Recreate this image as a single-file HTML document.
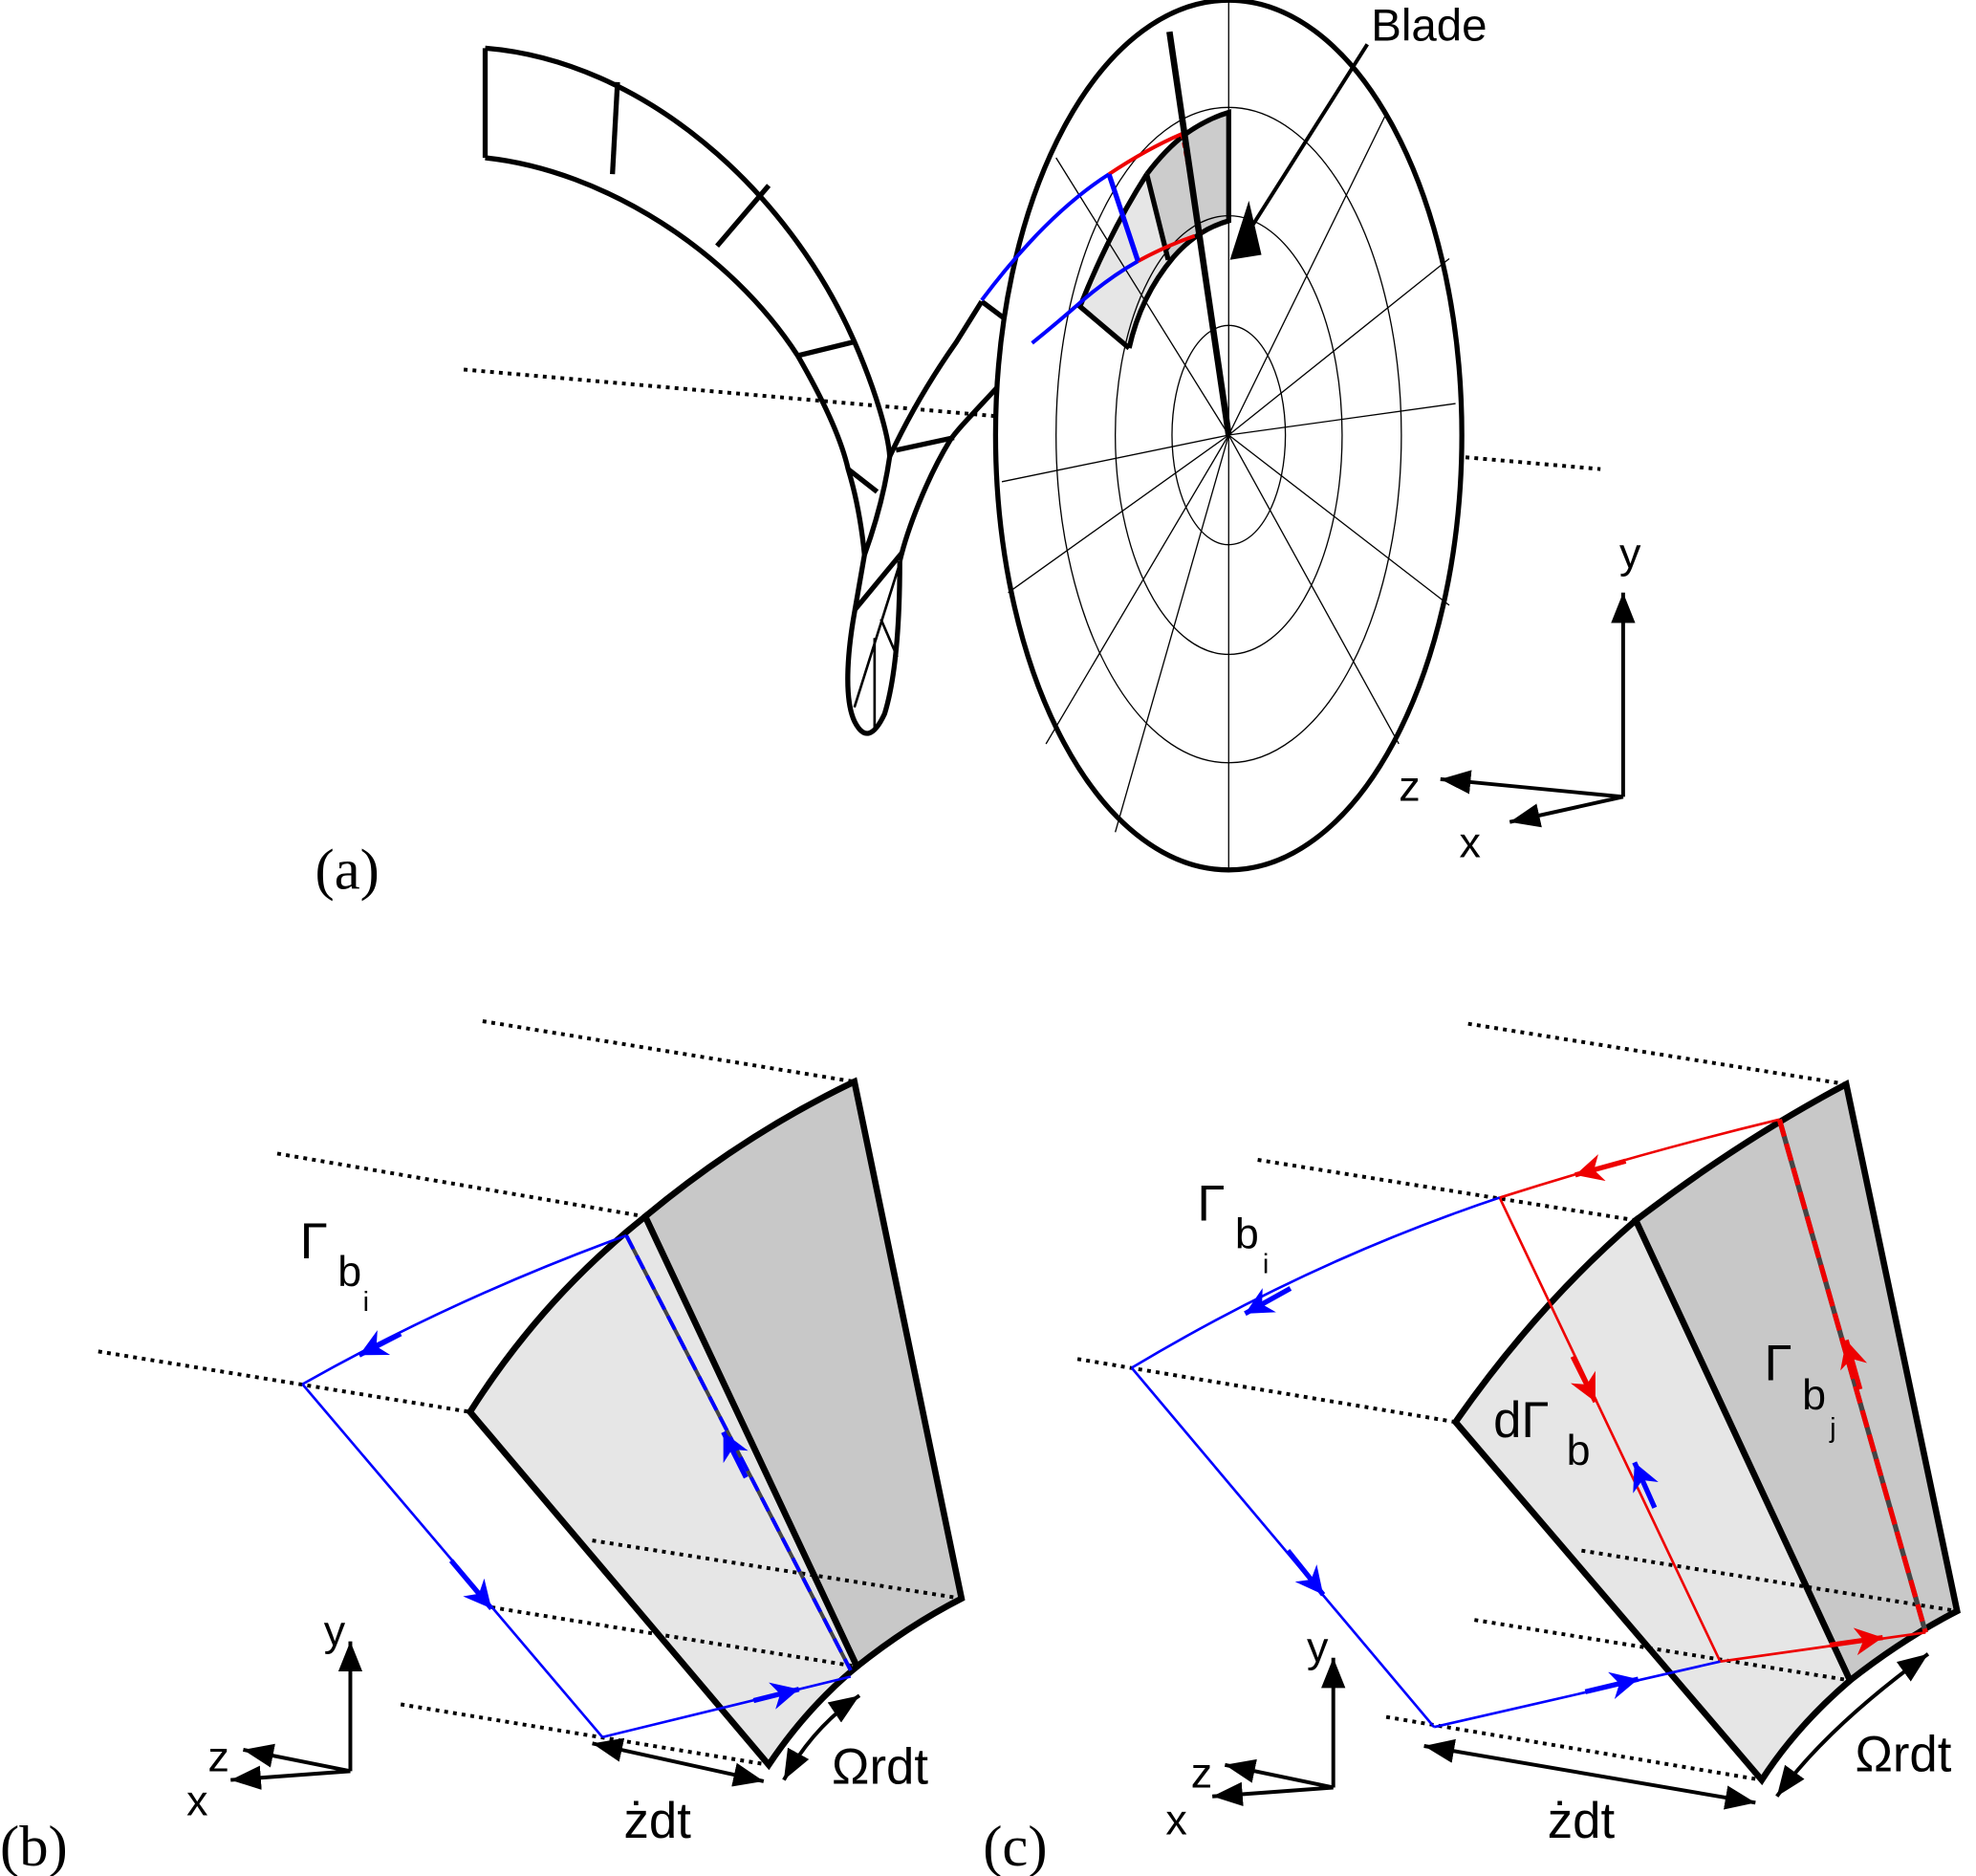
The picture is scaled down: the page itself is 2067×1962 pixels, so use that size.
<!DOCTYPE html>
<html><head><meta charset="utf-8"><style>
html,body{margin:0;padding:0;background:#fff;}
svg{display:block;}
text{font-family:"Liberation Sans",sans-serif;}
.serif{font-family:"Liberation Serif",serif;}
</style></head><body>
<svg width="2067" height="1962" viewBox="0 0 1568 1488" xmlns="http://www.w3.org/2000/svg">
<defs>
<marker id="ab" viewBox="0 0 10 10" refX="10" refY="5" markerWidth="8" markerHeight="8" orient="auto-start-reverse"><path d="M0,1 L10,5 L0,9 z" fill="#000"/></marker>
<marker id="mb" viewBox="0 0 10 10" refX="10" refY="5" markerUnits="userSpaceOnUse" markerWidth="32" markerHeight="22" orient="auto"><path d="M0,0 L10,5 L0,10 L3,5 z" fill="#00f"/></marker>
<marker id="mr" viewBox="0 0 10 10" refX="10" refY="5" markerUnits="userSpaceOnUse" markerWidth="32" markerHeight="22" orient="auto"><path d="M0,0 L10,5 L0,10 L3,5 z" fill="#e00"/></marker>
</defs>

<!-- (a) -->
<line x1="368" y1="293" x2="1270" y2="372" stroke="#000" stroke-width="3" stroke-dasharray="3,4"/>
<g fill="none" stroke="#000" stroke-width="4">
<path d="M385,38 C510,48 625,150 678,271 C695,310 705,345 706,362 C702,390 695,415 686,440"/>
<path d="M385,125 C480,135 580,200 633,282 C655,320 668,350 673,372 C680,395 684,420 686,440"/>
<line x1="385" y1="38" x2="385" y2="125"/>
<path d="M779,239 L759,271 Q728,315 706,362"/>
<path d="M819,272 L797,301 C775,325 760,340 754,349 C735,380 720,420 714,445"/>
<path d="M686,440 L678,486 C672,520 670,555 678,572 Q689,594 702,566 C710,540 714,500 714,445"/>
<line x1="490" y1="65" x2="486" y2="138"/>
<line x1="610" y1="147" x2="569" y2="195"/>
<line x1="678" y1="271" x2="633" y2="282"/>
<line x1="711" y1="357" x2="757" y2="347"/>
<line x1="673" y1="372" x2="696" y2="390"/>
<line x1="678" y1="484" x2="716" y2="438"/>
<line x1="779" y1="239" x2="803" y2="257"/>
<line x1="803" y1="257" x2="819" y2="272"/>
</g>
<g fill="none" stroke="#000" stroke-width="2">
<line x1="678" y1="561" x2="713" y2="450"/>
<line x1="694" y1="506" x2="694" y2="579"/>
<line x1="699" y1="491" x2="712" y2="521"/>
</g>
<ellipse cx="975" cy="345" rx="185" ry="345" fill="#fff" stroke="#000" stroke-width="4"/>
<path d="M910,138 Q925,118 941,106 Q958,94 975,89 L975,175 Q950,182 931,204 L927,206 Z" fill="#ccc"/>
<path d="M910,138 Q880,185 857,243 L896,276 Q905,235 927,206 Z" fill="#e6e6e6"/>
<g fill="none" stroke="#000" stroke-width="1">
<ellipse cx="975" cy="345" rx="45" ry="87"/>
<ellipse cx="975" cy="345" rx="90" ry="174"/>
<ellipse cx="975" cy="345" rx="137" ry="260"/>
<line x1="975" y1="345" x2="975" y2="690"/>
<line x1="975" y1="345" x2="975" y2="0"/>
<line x1="975" y1="345" x2="1155" y2="320"/>
<line x1="975" y1="345" x2="795" y2="382"/>
<line x1="975" y1="345" x2="1100" y2="90"/>
<line x1="975" y1="345" x2="885" y2="660"/>
<line x1="975" y1="345" x2="1110" y2="590"/>
<line x1="975" y1="345" x2="830" y2="590"/>
<line x1="975" y1="345" x2="1150" y2="205"/>
<line x1="975" y1="345" x2="800" y2="470"/>
<line x1="975" y1="345" x2="1150" y2="480"/>
<line x1="975" y1="345" x2="838" y2="125"/>
</g>
<g fill="none" stroke="#000" stroke-width="4">
<path d="M910,138 Q925,118 941,106 Q958,94 975,89 L975,175 Q950,182 931,204 Q905,235 896,276"/>
<path d="M910,138 Q880,185 857,243 L896,276"/>
<line x1="910" y1="138" x2="927" y2="206"/>
</g>
<g fill="none" stroke-width="3">
<path d="M779,238 Q830,170 880,138" stroke="#00f"/>
<path d="M880,138 Q910,118 938,106" stroke="#e00"/>
<path d="M819,272 Q840,255 857,240 Q880,220 903,207" stroke="#00f"/>
<path d="M903,207 Q925,195 948,187" stroke="#e00"/>
<line x1="880" y1="138" x2="903" y2="207" stroke="#00f" stroke-width="4"/>
<line x1="938" y1="106" x2="953" y2="187" stroke="#e00" stroke-dasharray="4,3"/>
</g>
<line x1="928" y1="25" x2="975" y2="345" stroke="#000" stroke-width="5"/>
<line x1="1085" y1="35" x2="993" y2="180" stroke="#000" stroke-width="3"/>
<path d="M991,159 L976,206 L1001,202 Z" fill="#000"/>
<text x="1088" y="32" font-size="36">Blade</text>
<g stroke="#000" stroke-width="3" fill="none">
<line x1="1288" y1="632" x2="1288" y2="470" marker-end="url(#ab)"/>
<line x1="1288" y1="632" x2="1143" y2="618" marker-end="url(#ab)"/>
<line x1="1288" y1="632" x2="1198" y2="652" marker-end="url(#ab)"/>
</g>
<text x="1285" y="450" font-size="34">y</text>
<text x="1110" y="635" font-size="34">z</text>
<text x="1158" y="680" font-size="34">x</text>
<text x="250" y="705" font-size="46" class="serif">(a)</text>

<!-- (b) -->
<g stroke="#000" stroke-width="3" stroke-dasharray="3,4">
<line x1="383" y1="810" x2="678" y2="858"/>
<line x1="220" y1="915" x2="512" y2="965"/>
<line x1="78" y1="1072" x2="373" y2="1120"/>
</g>
<path d="M512,965 Q590,900 678,858 L763,1268 Q720,1290 680,1322 Z" fill="#c8c8c8" stroke="#000" stroke-width="5"/>
<path d="M373,1120 Q430,1030 512,965 L680,1322 Q640,1355 610,1400 Z" fill="#e6e6e6" stroke="#000" stroke-width="5"/>
<g stroke="#000" stroke-width="3" stroke-dasharray="3,4">
<line x1="470" y1="1222" x2="763" y2="1268"/>
<line x1="390" y1="1275" x2="680" y2="1322"/>
<line x1="318" y1="1352" x2="610" y2="1400"/>
</g>
<g fill="none" stroke="#00f" stroke-width="2">
<path d="M497,980 Q360,1030 240,1098"/>
<line x1="240" y1="1098" x2="478" y2="1378"/>
<line x1="478" y1="1378" x2="675" y2="1330"/>
</g>
<line x1="497" y1="980" x2="675" y2="1325" stroke="#444" stroke-width="3"/>
<line x1="497" y1="980" x2="675" y2="1325" stroke="#00f" stroke-width="3" stroke-dasharray="12,6"/>
<g stroke="#00f" stroke-width="4">
<line x1="318" y1="1058" x2="285" y2="1075" marker-end="url(#mb)"/>
<line x1="358" y1="1238" x2="390" y2="1276" marker-end="url(#mb)"/>
<line x1="598" y1="1349" x2="634" y2="1340" marker-end="url(#mb)"/>
<line x1="592" y1="1172" x2="574" y2="1136" marker-end="url(#mb)"/>
</g>
<text x="238" y="998" font-size="40">Γ</text><text x="268" y="1020" font-size="34">b</text><text x="288" y="1040" font-size="22">i</text>
<g stroke="#000" stroke-width="3" fill="none">
<line x1="278" y1="1405" x2="278" y2="1302" marker-end="url(#ab)"/>
<line x1="278" y1="1405" x2="193" y2="1388" marker-end="url(#ab)"/>
<line x1="278" y1="1405" x2="183" y2="1412" marker-end="url(#ab)"/>
<line x1="470" y1="1383" x2="606" y2="1413" marker-start="url(#ab)" marker-end="url(#ab)"/>
<path d="M622,1412 Q645,1370 682,1345" marker-start="url(#ab)" marker-end="url(#ab)"/>
</g>
<text x="257" y="1305" font-size="34">y</text>
<text x="165" y="1405" font-size="34">z</text>
<text x="148" y="1440" font-size="34">x</text>
<text x="495" y="1458" font-size="40">żdt</text>
<text x="660" y="1415" font-size="40">Ωrdt</text>
<text x="0" y="1480" font-size="46" class="serif">(b)</text>

<!-- (c) -->
<g stroke="#000" stroke-width="3" stroke-dasharray="3,4">
<line x1="1165" y1="812" x2="1465" y2="860"/>
<line x1="998" y1="920" x2="1298" y2="968"/>
<line x1="855" y1="1078" x2="1155" y2="1128"/>
</g>
<path d="M1298,968 Q1380,905 1465,860 L1553,1278 Q1510,1300 1468,1333 Z" fill="#c8c8c8" stroke="#000" stroke-width="5"/>
<path d="M1155,1128 Q1220,1035 1298,968 L1468,1333 Q1425,1370 1398,1412 Z" fill="#e6e6e6" stroke="#000" stroke-width="5"/>
<g stroke="#000" stroke-width="3" stroke-dasharray="3,4">
<line x1="1255" y1="1230" x2="1553" y2="1278"/>
<line x1="1170" y1="1285" x2="1468" y2="1333"/>
<line x1="1100" y1="1362" x2="1398" y2="1412"/>
</g>
<g fill="none" stroke-width="2">
<path d="M1190,950 Q1300,915 1412,888" stroke="#e00"/>
<line x1="1190" y1="950" x2="1365" y2="1318" stroke="#e00"/>
<line x1="1365" y1="1318" x2="1528" y2="1295" stroke="#e00"/>
<path d="M1190,950 Q1040,1000 898,1085" stroke="#00f"/>
<line x1="898" y1="1085" x2="1138" y2="1370" stroke="#00f"/>
<line x1="1138" y1="1370" x2="1365" y2="1318" stroke="#00f"/>
</g>
<line x1="1412" y1="888" x2="1528" y2="1295" stroke="#444" stroke-width="4"/>
<line x1="1412" y1="888" x2="1528" y2="1295" stroke="#e00" stroke-width="4" stroke-dasharray="14,6"/>
<g stroke-width="4">
<line x1="1290" y1="921" x2="1250" y2="932" stroke="#e00" marker-end="url(#mr)"/>
<line x1="1248" y1="1076" x2="1266" y2="1112" stroke="#e00" marker-end="url(#mr)"/>
<line x1="1476" y1="1102" x2="1465" y2="1063" stroke="#e00" marker-end="url(#mr)"/>
<line x1="1452" y1="1305" x2="1494" y2="1299" stroke="#e00" marker-end="url(#mr)"/>
<line x1="1024" y1="1022" x2="988" y2="1042" stroke="#00f" marker-end="url(#mb)"/>
<line x1="1022" y1="1230" x2="1050" y2="1265" stroke="#00f" marker-end="url(#mb)"/>
<line x1="1258" y1="1342" x2="1300" y2="1332" stroke="#00f" marker-end="url(#mb)"/>
<line x1="1313" y1="1196" x2="1297" y2="1160" stroke="#00f" marker-end="url(#mb)"/>
</g>
<text x="950" y="968" font-size="40">Γ</text><text x="980" y="990" font-size="34">b</text><text x="1002" y="1010" font-size="22">i</text>
<text x="1185" y="1140" font-size="40">dΓ</text><text x="1243" y="1162" font-size="34">b</text>
<text x="1400" y="1095" font-size="40">Γ</text><text x="1430" y="1118" font-size="34">b</text><text x="1452" y="1140" font-size="22">j</text>
<g stroke="#000" stroke-width="3" fill="none">
<line x1="1058" y1="1418" x2="1058" y2="1315" marker-end="url(#ab)"/>
<line x1="1058" y1="1418" x2="972" y2="1400" marker-end="url(#ab)"/>
<line x1="1058" y1="1418" x2="962" y2="1425" marker-end="url(#ab)"/>
<line x1="1130" y1="1385" x2="1393" y2="1430" marker-start="url(#ab)" marker-end="url(#ab)"/>
<path d="M1410,1425 Q1450,1370 1530,1312" marker-start="url(#ab)" marker-end="url(#ab)"/>
</g>
<text x="1037" y="1318" font-size="34">y</text>
<text x="945" y="1418" font-size="34">z</text>
<text x="925" y="1455" font-size="34">x</text>
<text x="1228" y="1458" font-size="40">żdt</text>
<text x="1472" y="1405" font-size="40">Ωrdt</text>
<text x="780" y="1480" font-size="46" class="serif">(c)</text>
</svg>
</body></html>
